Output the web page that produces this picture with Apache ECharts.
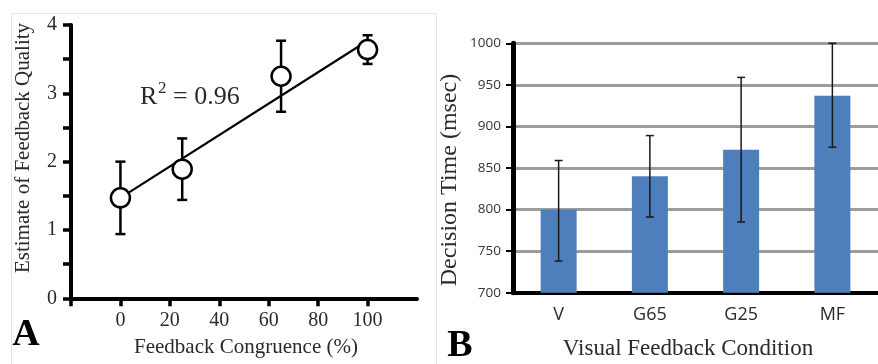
<!DOCTYPE html>
<html>
<head>
<meta charset="utf-8">
<script src="https://cdn.jsdelivr.net/npm/echarts/dist/echarts.min.js"></script>
<style>
  html, body { margin: 0; padding: 0; background: #fff; }
  #chart { width: 878px; height: 364px; }
</style>
</head>
<body>
<div id="chart"></div>
<script>
// Panel A: perceived feedback quality vs. feedback congruence
const congruence = [0, 25, 65, 100];
const qualityMean = [1.47, 1.89, 3.25, 3.64];
const qualityErr = [0.53, 0.45, 0.52, 0.21];
const fitLine = [[0, 1.47], [100, 3.77]];
const congruenceTicks = [0, 20, 40, 60, 80, 100];
const congruenceTickMarks = [-20, 0, 20, 40, 60, 80, 100];
const qualityTicks = [0, 1, 2, 3, 4];
const qualityTickMarks = [0, 0.5, 1, 1.5, 2, 2.5, 3, 3.5, 4];

// Panel B: decision time by visual feedback condition
const conditions = ['V', 'G65', 'G25', 'MF'];
const decisionMean = [800, 840, 872, 937];
const decisionLow = [738, 791, 785, 875];
const decisionHigh = [859, 889, 959, 1000];

const SERIF = '"Liberation Serif", "Times New Roman", serif';
const SANS = '"Open Sans", "Liberation Sans", sans-serif';
const TEXT = '#2a2a2a';

// whisker renderer: vertical stem with caps, placed through the axis scales
function errorBars(capHalf, width, color) {
  return function (params, api) {
    const x = api.value(0);
    const lo = api.coord([x, api.value(1)]);
    const hi = api.coord([x, api.value(2)]);
    const st = { stroke: color, lineWidth: width };
    return {
      type: 'group',
      children: [
        { type: 'line', shape: { x1: lo[0], y1: lo[1], x2: hi[0], y2: hi[1] }, style: st },
        { type: 'line', shape: { x1: lo[0] - capHalf, y1: lo[1], x2: lo[0] + capHalf, y2: lo[1] }, style: st },
        { type: 'line', shape: { x1: hi[0] - capHalf, y1: hi[1], x2: hi[0] + capHalf, y2: hi[1] }, style: st }
      ]
    };
  };
}

const qualityPoints = congruence.map((c, i) => [c, qualityMean[i]]);
const qualityBars = congruence.map((c, i) => [c, qualityMean[i] - qualityErr[i], qualityMean[i] + qualityErr[i]]);
const decisionBars = conditions.map((c, i) => [i, decisionLow[i], decisionHigh[i]]);

const chart = echarts.init(document.getElementById('chart'), null, { renderer: 'canvas' });

chart.setOption({
  animation: false,
  backgroundColor: '#fff',
  grid: [
    { left: 71, top: 25, width: 346, height: 273.3 },
    { left: 513, top: 43.3, width: 376, height: 249.4 }
  ],
  xAxis: [
    {
      gridIndex: 0, type: 'value', min: -20, max: 120, interval: 20,
      axisLine: { onZero: false, lineStyle: { color: '#000', width: 4 } },
      axisTick: { show: true, customValues: congruenceTickMarks, length: 8, lineStyle: { color: '#000', width: 3.5 } },
      axisLabel: { customValues: congruenceTicks, fontFamily: SERIF, fontSize: 20, color: TEXT, margin: 12 },
      splitLine: { show: false }
    },
    {
      gridIndex: 1, type: 'category', data: conditions, boundaryGap: true,
      axisLine: { lineStyle: { color: '#000', width: 4 } },
      axisTick: { show: false },
      axisLabel: { fontFamily: SANS, fontSize: 18, color: TEXT, margin: 13 },
      splitLine: { show: false }
    }
  ],
  yAxis: [
    {
      gridIndex: 0, type: 'value', position: 'left', min: 0, max: 4, interval: 0.5,
      axisLine: { show: true, onZero: false, lineStyle: { color: '#000', width: 4 } },
      axisTick: { show: true, inside: false, customValues: qualityTickMarks, length: 8, lineStyle: { color: '#000', width: 3.5 } },
      axisLabel: { customValues: qualityTicks, fontFamily: SERIF, fontSize: 20, color: TEXT, margin: 14 },
      splitLine: { show: false }
    },
    {
      gridIndex: 1, type: 'value', position: 'left', min: 700, max: 1000, interval: 50,
      axisLine: { show: true, onZero: false, lineStyle: { color: '#000', width: 5 } },
      axisTick: { show: true, inside: false, length: 7, lineStyle: { color: '#000', width: 2 } },
      axisLabel: { formatter: v => String(v), fontFamily: SANS, fontSize: 13.5, color: '#333', margin: 12 },
      splitLine: { show: true, lineStyle: { color: '#9c9c9c', width: 3 } }
    }
  ],
  series: [
    {
      type: 'line', xAxisIndex: 0, yAxisIndex: 0, data: fitLine,
      showSymbol: false, symbol: 'none',
      lineStyle: { color: '#000', width: 2.2 }, z: 2
    },
    {
      type: 'custom', xAxisIndex: 0, yAxisIndex: 0, data: qualityBars,
      encode: { x: 0, y: [1, 2] },
      renderItem: errorBars(5, 2.5, '#000'), z: 3
    },
    {
      type: 'scatter', xAxisIndex: 0, yAxisIndex: 0, data: qualityPoints,
      symbol: 'circle', symbolSize: 19,
      itemStyle: { color: '#fff', borderColor: '#000', borderWidth: 2.5, opacity: 1 }, z: 4
    },
    {
      type: 'bar', xAxisIndex: 1, yAxisIndex: 1, data: decisionMean,
      barWidth: 36,
      itemStyle: { color: '#4f7ebd' }, z: 2
    },
    {
      type: 'custom', xAxisIndex: 1, yAxisIndex: 1, data: decisionBars,
      encode: { x: 0, y: [1, 2] },
      renderItem: errorBars(4, 1.5, '#1a1a1a'), z: 3
    }
  ],
  graphic: [
    // light frame around panel A
    { type: 'rect', shape: { x: 11.5, y: 13.5, width: 425, height: 370 },
      style: { fill: 'none', stroke: '#e4e4e4', lineWidth: 1 }, z: -1 },
    // fit annotation
    { type: 'text', x: 140, y: 97, style: { text: 'R', font: '26px ' + SERIF, fill: TEXT, align: 'left', verticalAlign: 'middle' } },
    { type: 'text', x: 158, y: 89, style: { text: '2', font: '17px ' + SERIF, fill: TEXT, align: 'left', verticalAlign: 'middle' } },
    { type: 'text', x: 173, y: 97, style: { text: '= 0.96', font: '26px ' + SERIF, fill: TEXT, align: 'left', verticalAlign: 'middle' } },
    // axis titles
    { type: 'text', x: 23, y: 148, rotation: Math.PI / 2,
      style: { text: 'Estimate of Feedback Quality', font: '21px ' + SERIF, fill: TEXT, align: 'center', verticalAlign: 'middle' } },
    { type: 'text', x: 246, y: 347,
      style: { text: 'Feedback Congruence (%)', font: '21px ' + SERIF, fill: TEXT, align: 'center', verticalAlign: 'middle' } },
    { type: 'text', x: 450, y: 180, rotation: Math.PI / 2,
      style: { text: 'Decision Time (msec)', font: '24px ' + SERIF, fill: TEXT, align: 'center', verticalAlign: 'middle' } },
    { type: 'text', x: 688, y: 349,
      style: { text: 'Visual Feedback Condition', font: '23px ' + SERIF, fill: TEXT, align: 'center', verticalAlign: 'middle' } },
    // panel letters
    { type: 'text', x: 26, y: 335,
      style: { text: 'A', font: 'bold 38px ' + SERIF, fill: '#000', align: 'center', verticalAlign: 'middle' } },
    { type: 'text', x: 460, y: 346,
      style: { text: 'B', font: 'bold 38px ' + SERIF, fill: '#000', align: 'center', verticalAlign: 'middle' } }
  ]
});
</script>
</body>
</html>
